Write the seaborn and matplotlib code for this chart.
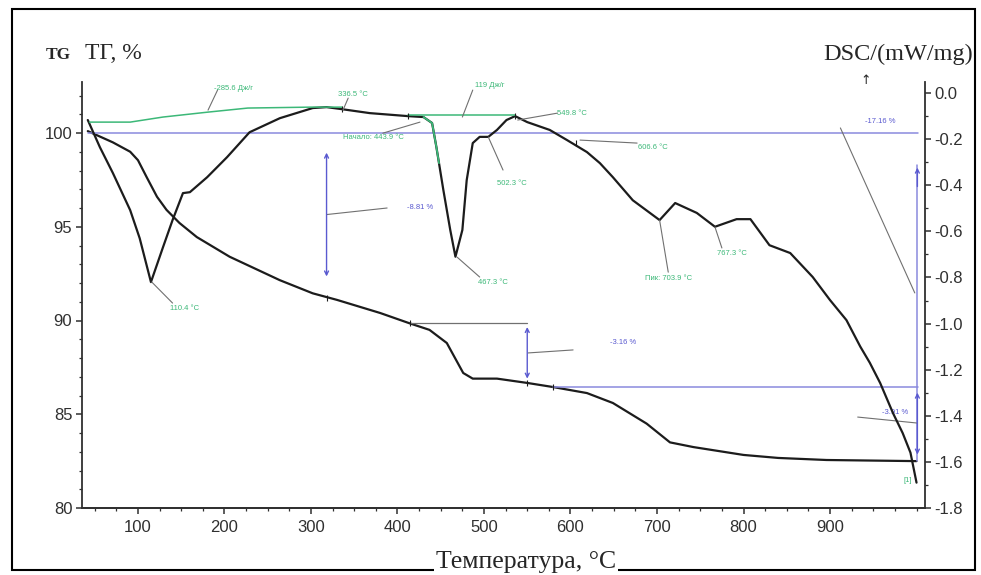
import numpy as np
import pandas as pd
import seaborn as sns
import matplotlib.pyplot as plt
from matplotlib.ticker import MultipleLocator, FixedLocator, FormatStrFormatter
from matplotlib.patches import Rectangle

# TG curve (left axis, %)
tg_temp = [42, 71, 91, 100, 110, 122, 133, 148, 168, 206, 264, 302, 330, 380, 414, 437,
           457, 476, 487, 515, 550, 580, 619, 649, 688, 715, 742, 800, 840, 896, 1000]
tg_mass = [100.1, 99.5, 99.0, 98.55, 97.65, 96.6, 95.9, 95.2, 94.45, 93.4, 92.15, 91.45, 91.1, 90.4, 89.85, 89.5,
           88.8, 87.2, 86.9, 86.9, 86.67, 86.45, 86.13, 85.6, 84.5, 83.5, 83.25, 82.83, 82.67, 82.56, 82.5]

# DSC curve (right axis, mW/mg)
dsc_temp = [42, 56, 71, 91, 102, 115, 129, 140, 152, 160, 180, 203, 229, 264, 302, 318, 336, 368, 412, 430,
            440, 445, 453, 461, 467, 475, 480, 487, 495, 505, 515, 526, 536, 550, 576, 596, 619, 634, 649, 672,
            703, 721, 746, 767, 792, 808, 830, 854, 880, 900, 919, 935, 946, 958, 973, 984, 993, 1000]
dsc_signal = [-0.117, -0.235, -0.347, -0.508, -0.63, -0.82, -0.668, -0.551, -0.434, -0.43, -0.365, -0.278, -0.17,
              -0.109, -0.065, -0.061, -0.07, -0.087, -0.1, -0.104, -0.13, -0.235, -0.42, -0.594, -0.71, -0.594,
              -0.378, -0.217, -0.19, -0.19, -0.16, -0.117, -0.1, -0.126, -0.16, -0.204, -0.256, -0.304, -0.365,
              -0.465, -0.551, -0.477, -0.52, -0.58, -0.547, -0.547, -0.66, -0.694, -0.798, -0.898, -0.985, -1.1,
              -1.17, -1.258, -1.39, -1.475, -1.56, -1.69]

# green integration baselines
base1_temp = [44, 91, 129, 180, 227, 300, 336]
base1_signal = [-0.126, -0.126, -0.104, -0.083, -0.065, -0.061, -0.061]
base2_temp = [412, 536]
base2_signal = [-0.096, -0.096]
onset_temp = [430, 440, 445, 448]
onset_signal = [-0.104, -0.13, -0.235, -0.304]

# mass loss steps
step_labels = ['-8.81 %', '-3.16 %', '-3.91 %', '-17.16 %']
green_labels = ['-285.6 Дж/г', '336.5 °C', '119 Дж/г', 'Начало: 443.9 °C', '549.8 °C', '502.3 °C',
                '606.6 °C', 'Пик: 703.9 °C', '767.3 °C', '110.4 °C', '467.3 °C', '[1]']

sns.set_style('ticks')
plt.rcParams['font.family'] = ['Liberation Sans', 'DejaVu Sans']
plt.rcParams['axes.unicode_minus'] = False

W, H = 981, 575
fig = plt.figure(figsize=(W / 100, H / 100), dpi=100)
ax = fig.add_axes([82 / W, 1 - 508 / H, (925 - 82) / W, (508 - 82) / H])
ax2 = ax.twinx()

black = '#1c1c1c'
green = '#3cb878'
blue = '#8a8ade'
blue_txt = '#5a5ad0'
grey = '#707070'

sns.lineplot(x=tg_temp, y=tg_mass, ax=ax, color=black, lw=1.6, sort=False, estimator=None)

# blue guide lines (TG coords)
ax.plot([42, 1002], [100, 100], color=blue, lw=1.1)
ax.plot([414, 550], [89.87, 89.87], color=grey, lw=0.9)
ax.plot([580, 1002], [86.45, 86.45], color=blue, lw=1.1)
ax.plot([1001, 1001], [98.3, 82.5], color=blue, lw=1.1)
arrow = dict(arrowstyle='<->', color=blue_txt, lw=1.0, mutation_scale=7)
ax.annotate('', xy=(318, 92.2), xytext=(318, 99.1), arrowprops=arrow)
ax.annotate('', xy=(550, 86.75), xytext=(550, 89.8), arrowprops=arrow)
ax.annotate('', xy=(1001, 98.3), xytext=(1001, 97.0),
            arrowprops=dict(arrowstyle='->', color=blue_txt, lw=1.0, mutation_scale=7))
ax.annotate('', xy=(1001, 82.7), xytext=(1001, 86.3), arrowprops=arrow)

# step leaders and labels
ax.plot([318, 388], [95.65, 96.0], color=grey, lw=0.8)
ax.plot([551, 603], [88.27, 88.43], color=grey, lw=0.8)
ax.plot([932, 1001], [84.85, 84.53], color=grey, lw=0.8)
ax.plot([912, 998], [100.27, 91.47], color=grey, lw=0.8)
step_pos = [(426, 96.05), (661, 88.8), (975, 85.07), (958, 100.6)]
for lab, (tx, ty) in zip(step_labels, step_pos):
    ax.text(tx, ty, lab, color=blue_txt, fontsize=5.5, ha='center', va='center')

# small markers on TG curve
ax.plot([318, 414, 550, 580], [91.2, 89.85, 86.67, 86.45], ls='none', marker='|', ms=5, color=black, mew=0.8)

sns.lineplot(x=dsc_temp, y=dsc_signal, ax=ax2, color=black, lw=1.6, sort=False, estimator=None)
ax2.plot(base1_temp, base1_signal, color=green, lw=1.1)
ax2.plot(base2_temp, base2_signal, color=green, lw=1.1)
ax2.plot(onset_temp, onset_signal, color=green, lw=1.3)
ax2.plot([336, 412, 536, 606], [-0.07, -0.1, -0.1, -0.215], ls='none', marker='|', ms=5, color=black, mew=0.8)

green_pos = [(210, 0.021), (348, -0.005), (507, 0.034), (372, -0.191), (602, -0.087), (532, -0.391),
             (695, -0.234), (713, -0.803), (787, -0.694), (154, -0.933), (510, -0.82), (990, -1.68)]
leaders = [((181, -0.074), (192, 0.013)), ((337, -0.074), (343, -0.022)), ((475, -0.104), (487, 0.013)),
           ((383, -0.174), (426, -0.126)), ((539, -0.117), (585, -0.087)), ((505, -0.191), (522, -0.334)),
           ((611, -0.204), (677, -0.217)), ((703, -0.551), (713, -0.777)), ((767, -0.581), (775, -0.672)),
           ((116, -0.82), (140, -0.911)), ((469, -0.712), (495, -0.798))]
for (a, b) in leaders:
    ax2.plot([a[0], b[0]], [a[1], b[1]], color=grey, lw=0.8)
for lab, (tx, ty) in zip(green_labels, green_pos):
    ax2.text(tx, ty, lab, color=green, fontsize=5.5, ha='center', va='center')

# axes styling
ax.set_xlim(35.3, 1009.8)
ax.set_ylim(80, 102.72)
ax2.set_ylim(-1.8, 0.048)
ax.xaxis.set_major_locator(FixedLocator(list(range(100, 1000, 100))))
ax.xaxis.set_minor_locator(MultipleLocator(25))
ax.yaxis.set_major_locator(MultipleLocator(5))
ax.yaxis.set_minor_locator(MultipleLocator(1))
ax2.yaxis.set_major_locator(MultipleLocator(0.2))
ax2.yaxis.set_minor_locator(MultipleLocator(0.1))
ax2.yaxis.set_major_formatter(FormatStrFormatter('%.1f'))

for a in (ax, ax2):
    a.spines['top'].set_visible(False)
    for s in a.spines.values():
        s.set_linewidth(1.3)
        s.set_color('#303030')
    a.tick_params(which='major', direction='out', length=4.5, width=1.1, labelsize=12, pad=2.5, colors='#303030')
    a.tick_params(which='minor', direction='out', length=2.5, width=0.9, colors='#303030')
    a.set_xlabel('')
    a.set_ylabel('')
ax.spines['right'].set_visible(False)
ax2.spines['left'].set_visible(False)
ax.tick_params(axis='x', pad=4)

# outer frame and labels
fig.add_artist(Rectangle((12 / W, 1 - 570 / H), (975 - 12) / W, (570 - 9) / H,
                         transform=fig.transFigure, fill=False, lw=1.5, ec='black'))
fig.text(46 / W, 1 - 59 / H, 'TG', family='Liberation Serif', weight='bold', size=12.5, va='baseline')
fig.text(85 / W, 1 - 59 / H, 'ТГ, %', family='Liberation Serif', size=17, va='baseline')
fig.text(823 / W, 1 - 60 / H, 'DSC/(mW/mg)', family='Liberation Serif', size=17.5, va='baseline')
fig.text(866 / W, 1 - 80 / H, '↑', family='DejaVu Sans', size=9, ha='center', va='center')
fig.text(526 / W, 1 - 568 / H, 'Температура, °C', family='Liberation Serif', size=18.5,
         ha='center', va='baseline', bbox=dict(fc='white', ec='none', pad=1.5))

fig.savefig('out.png', dpi=100)
